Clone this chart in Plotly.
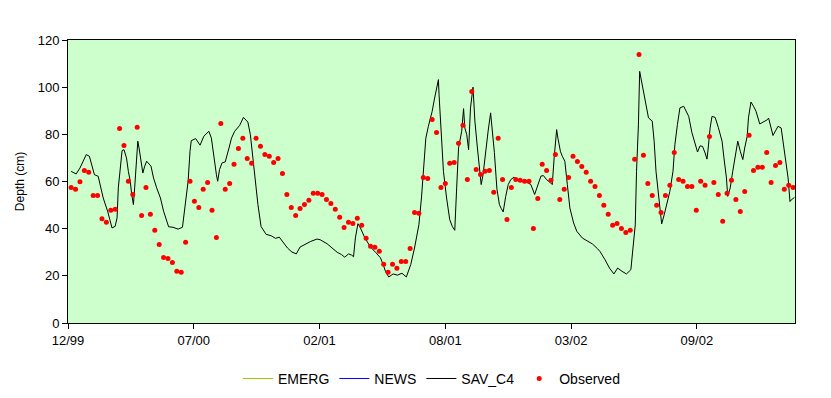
import pandas as pd
import plotly.graph_objects as go

# ---------------- data ----------------
SIM_BASE = "1999-12-30"          # day 0 of the simulated series
sim_day = [5,13,19,29,34,42,48,51,56,63,70,75,78,80,83,86,89,93,96,99,101,104,106,108,111,113,116,119,122,125,
           132,136,141,147,152,157,160,167,175,182,186,191,194,196,203,210,216,224,228,232,236,238,241,245,250,
           256,260,265,273,279,286,290,294,298,302,307,315,323,330,336,341,349,356,363,369,378,386,396,401,412,
           420,428,435,440,446,451,454,457,461,465,472,481,489,497,502,505,510,517,524,531,538,545,551,558,562,
           566,569,573,579,583,587,589,590,593,597,602,607,611,615,618,621,626,629,631,634,637,640,644,647,651,
           655,657,660,664,668,672,675,678,682,686,689,692,696,700,704,709,715,720,729,736,742,746,752,756,761,
           767,770,773,776,777,779,783,786,790,794,798,804,809,818,826,834,842,846,854,861,868,874,881,888,895,
           898,902,904,907,909,911,915,919,923,929,932,935,939,942,944,948,952,957,962,965,969,973,979,987,992,
           997,1001,1005,1009,1013,1016,1018,1021,1024,1029,1034,1040,1043,1047,1049,1053,1057,1061,1065,1069,
           1073,1076,1080,1082,1086,1090,1094,1100,1106,1112,1114,1117,1121,1125,1129,1134,1138,1142,1145,1148,
           1150,1155]
sav_c4 = [64.3,63.2,65.7,71.4,70.7,62.9,62.2,58.7,53.0,47.4,40.3,41.0,44.5,57.3,67.1,73.1,73.5,70.0,64.3,60.1,
          55.1,50.2,57.3,67.1,77.1,74.2,68.6,63.6,66.5,68.6,
          66.5,61.5,57.3,53.0,47.4,43.1,40.8,40.6,39.8,40.6,48.5,60.1,72.8,77.3,78.2,75.4,79.2,81.3,78.4,70.0,
          62.9,60.1,65.1,67.9,68.3,
          74.2,78.4,81.3,83.8,87.2,85.2,79.8,70.0,60.1,50.2,40.9,37.6,37.0,35.9,36.4,34.8,31.8,30.1,29.3,32.2,
          33.5,34.6,35.6,35.3,33.6,
          31.8,30.0,29.0,27.9,29.3,28.8,28.1,36.1,42.1,40.3,36.1,32.2,30.0,27.6,24.1,21.8,19.5,20.8,20.3,21.1,
          19.5,24.8,31.8,41.7,53.0,
          67.1,78.4,83.4,89.7,95.4,101.8,103.2,96.8,81.3,64.3,53.0,43.8,41.0,39.3,57.3,74.2,81.3,90.9,82.7,79.9,
          73.5,91.2,100.0,85.6,74.2,
          64.3,58.7,62.9,72.8,81.3,89.1,80.8,72.3,56.9,50.2,48.5,47.1,53.7,58.7,60.8,61.8,60.8,60.1,59.8,58.7,
          54.5,58.0,62.3,62.5,60.8,
          59.5,58.7,70.0,77.0,82.0,78.4,72.8,70.7,68.6,58.7,48.8,42.4,38.9,36.0,34.9,33.5,31.5,30.3,26.8,23.3,
          20.8,23.3,21.9,20.8,22.6,
          30.3,41.6,64.3,84.0,106.7,103.9,98.3,92.6,87.0,85.6,77.1,64.3,53.0,45.9,42.0,45.9,50.2,55.8,64.3,75.6,
          84.1,91.2,91.9,87.6,80.8,
          76.6,72.5,75.1,74.9,72.1,69.5,74.2,82.7,87.6,87.2,83.0,77.1,70.0,61.5,53.7,57.3,64.3,71.4,77.1,72.8,
          69.3,74.2,79.2,87.0,93.7,91.9,89.8,84.4,85.2,86.2,86.9,83.4,79.5,81.5,83.4,82.7,75.6,67.1,61.5,51.5,
          52.2,53.2]

OBS_START = "2000-01-04"   # weekly observations
observed = [57.5,56.7,59.9,64.7,63.9,54.1,54.1,44.2,42.7,47.8,
            48.2,82.5,75.3,60.1,54.5,83.0,45.6,57.5,46.1,39.3,
            33.3,27.8,27.4,25.7,21.9,21.5,34.2,60.1,51.6,49.0,
            56.7,59.6,47.8,36.3,84.6,56.7,59.2,67.3,74.0,78.3,
            69.8,67.7,78.3,74.9,71.5,70.7,68.1,69.8,63.4,54.5,
            49.0,45.6,48.6,50.3,52.0,55.0,55.0,54.5,52.4,50.7,
            48.2,44.8,40.5,42.7,42.2,44.4,41.4,35.9,32.5,32.1,
            30.4,24.9,21.5,24.9,23.2,26.1,26.1,31.6,46.9,46.5,
            61.7,61.3,86.3,80.8,57.5,59.2,67.7,68.1,76.2,83.8,
            60.9,98.2,65.1,63.0,64.3,64.7,55.4,78.3,60.9,43.9,
            57.5,60.9,60.5,60.1,60.1,40.1,52.8,67.3,64.7,60.5,
            71.5,52.4,56.7,61.7,70.7,68.5,66.4,63.9,60.1,57.9,
            54.1,49.9,46.1,41.4,42.2,40.1,38.4,39.3,69.4,113.9,
            71.1,59.2,54.1,49.9,46.9,54.1,58.4,72.3,60.9,60.1,
            57.9,57.9,47.8,60.1,58.4,79.1,59.6,54.5,43.1,55.0,
            60.5,52.4,47.3,55.8,79.6,64.7,66.0,66.0,72.3,59.6,
            66.8,68.1,56.7,58.4,57.5]

series_names = ["EMERG", "NEWS", "SAV_C4", "Observed"]
y_ticks = [0, 20, 40, 60, 80, 100, 120]
x_range = ["1999-12-30", "2003-02-28"]
x_tick_step_days = 200

assert len(sim_day) == len(sav_c4), (len(sim_day), len(sav_c4))

sim_dates = pd.Timestamp(SIM_BASE) + pd.to_timedelta(sim_day, unit="D")
obs_dates = pd.date_range(OBS_START, periods=len(observed), freq="7D")

FONT = "Liberation Sans, Arial, sans-serif"

fig = go.Figure()
fig.add_trace(go.Scatter(x=[None], y=[None], mode="lines", name=series_names[0],
                         line=dict(color="#99CC00", width=1)))
fig.add_trace(go.Scatter(x=[None], y=[None], mode="lines", name=series_names[1],
                         line=dict(color="#0000FF", width=1)))
fig.add_trace(go.Scatter(x=sim_dates, y=sav_c4, mode="lines", name=series_names[2],
                         line=dict(color="#000000", width=1)))
fig.add_trace(go.Scatter(x=obs_dates, y=observed, mode="markers", name=series_names[3],
                         marker=dict(color="#FF0000", size=5, line=dict(width=0))))

fig.update_layout(
    width=823, height=390,
    margin=dict(l=60, r=36, t=32, b=75),
    paper_bgcolor="white",
    plot_bgcolor="#CCFFCC",
    font=dict(family=FONT, size=13, color="black"),
    showlegend=True,
    legend=dict(orientation="h", x=0.5, xanchor="center", y=0.049, yanchor="middle",
                yref="container", font=dict(size=14), itemwidth=30,
                bgcolor="rgba(0,0,0,0)"),
)
fig.update_xaxes(
    type="date", range=x_range,
    tick0=x_range[0], dtick=x_tick_step_days * 86400000, tickformat="%m/%y",
    showline=True, linecolor="black", linewidth=1, mirror=True,
    ticks="outside", ticklen=5, tickcolor="black",
    showgrid=False, zeroline=False,
)
fig.update_yaxes(
    range=[0, 120], tickvals=y_ticks,
    showline=True, linecolor="black", linewidth=1, mirror=True,
    ticks="outside", ticklen=5, tickcolor="black",
    showgrid=False, zeroline=False,
    title=dict(text="Depth (cm)", font=dict(size=12), standoff=10),
)

fig.write_html("out.html")
